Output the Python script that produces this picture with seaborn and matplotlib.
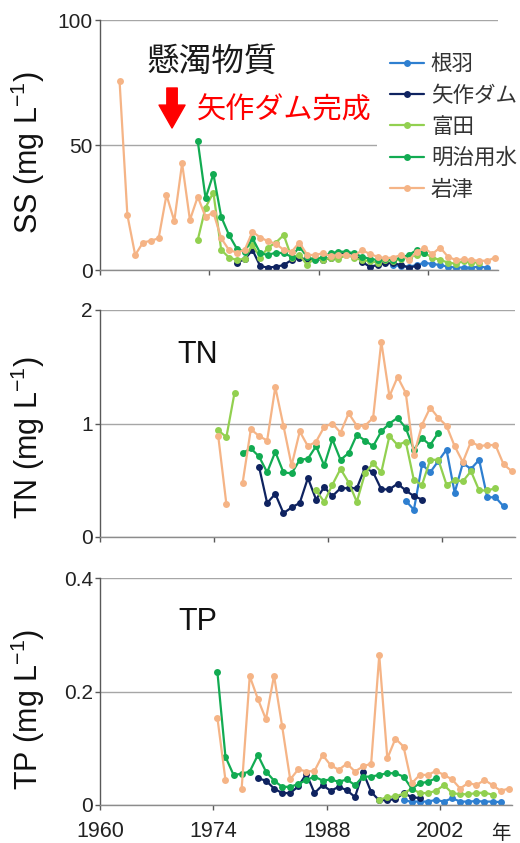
import numpy as np
import pandas as pd
import matplotlib
matplotlib.use("Agg")
import matplotlib.pyplot as plt
from matplotlib.lines import Line2D
import seaborn as sns

nan = np.nan

# ---------------- data ----------------
sites = ["根羽", "矢作ダム", "富田", "明治用水", "岩津"]
site_colors = ["#2e7fd0", "#0f2360", "#92d050", "#12ab52", "#f5b486"]
tick_years = [1960, 1974, 1988, 2002]

# Suspended solids (mg/L)
ss_starts = [1997, 1977, 1972, 1972, 1962]
ss_neba = [2.0, 1.5, 1.3, 2.0, 2.9, 2.4, 2.0, 1.3, 1.0, 1.0, 1.0, 1.3, 1.0]
ss_yahagi = [3.0, 4.3, 8.0, 1.5, 1.0, 1.3, 2.0, 4.0, 5.0, 4.0, 4.5, 4.0, 5.0,
             6.0, 7.0, 6.5, 3.3, 1.3, 2.0, 2.7, 2.7, 2.0, 1.0, 1.6]
ss_tomita = [12, 25, 31, 8, 5, 4, 4.5, 10, 5, 9, 11, 14, 5, 6, 2, 5, 4, 5, 4.5,
             6, 5, 4, 3.5, 3, 4, 3.5, 4.5, 5, 6, 6.7, 5, 4, 3, 2.5, 3.5, 3, 3]
ss_meiji = [51.6, 28.7, 38.4, 21.3, 14, 8.5, 7.3, 12.7, 6.7, 6, 7, 6.7, 5.3,
            9.3, 5.3, 4, 5.3, 6.7, 7.3, 7.3, 6.7, 5.3, 4.5, 4, 4.5, 4, 5, 6, 8, 7]
ss_iwatsu = [75.7, 22, 6, 11, 11.7, 12.7, 30, 19.6, 42.7, 20, 29.3, 21.3, 23,
             12.7, 8, 7, 8, 15.3, 13, 11.5, 10.5, 8, 7.3, 11, 6, 6, 6.7, 5.5,
             6, 6, 5.5, 8, 6.4, 5.3, 4.7, 5, 6, 4, 7.3, 8.7, 6.4, 9, 5.3, 4,
             4.3, 4, 3.7, 3.7, 4.9]

# Total nitrogen (mg/L)
tn_starts = [1997, 1979, 1974, 1977, 1974]
tn_neba = [0.32, 0.24, 0.64, 0.57, 0.67, 0.77, 0.39, 0.65, 0.60, 0.68, 0.35,
           0.35, 0.27]
tn_yahagi = [0.62, 0.30, 0.38, 0.21, 0.26, 0.30, 0.52, 0.33, 0.44, 0.36, 0.43,
             0.43, 0.43, 0.61, 0.57, 0.42, 0.42, 0.47, 0.41, 0.36, 0.33]
tn_tomita = [0.94, 0.88, 1.27, nan, nan, nan, nan, nan, nan, nan, nan, nan,
             0.41, 0.31, 0.46, 0.60, 0.48, 0.31, 0.56, 0.65, 0.57, 0.89, 0.81,
             0.84, 0.50, 0.46, 0.68, 0.68, 0.46, 0.50, 0.49, 0.58, 0.41, 0.41,
             0.43]
tn_meiji = [0.74, 0.78, 0.71, 0.57, 0.75, 0.57, 0.56, 0.68, 0.69, 0.80, 0.63,
            0.86, 0.68, 0.74, 0.90, 0.85, 0.80, 0.93, 1.00, 1.05, 0.96, 0.77,
            0.87, 0.81, 0.92]
tn_iwatsu = [0.89, 0.29, nan, 0.48, 0.95, 0.89, 0.85, 1.32, 0.98, 0.63, 0.93,
             0.80, 0.84, 0.97, 1.00, 0.92, 1.09, 0.98, 0.98, 1.05, 1.72, 1.24,
             1.41, 1.27, 0.72, 0.99, 1.14, 1.05, 0.98, 0.80, 0.66, 0.84, 0.80,
             0.81, 0.81, 0.64, 0.58]

# Total phosphorus (mg/L)
tp_starts = [1997, 1979, 1994, 1974, 1974]
tp_neba = [0.008, 0.006, 0.006, 0.006, 0.009, 0.006, 0.012, 0.006, 0.006,
           0.007, 0.006, 0.006, 0.005]
tp_yahagi = [0.047, 0.043, 0.029, 0.021, 0.021, 0.033, 0.055, 0.021, 0.035,
             0.025, 0.032, 0.026, 0.014, 0.058, 0.023, 0.008, 0.009, 0.010,
             0.021, 0.014, 0.012]
tp_tomita = [0.009, 0.014, 0.015, 0.020, 0.029, 0.021, 0.021, 0.025, 0.035,
             0.021, 0.019, 0.019, 0.021, 0.022, 0.018]
tp_meiji = [0.235, 0.085, 0.053, 0.055, 0.059, 0.088, 0.059, 0.043, 0.032,
            0.032, 0.037, 0.044, 0.050, 0.043, 0.045, 0.041, 0.045, 0.035,
            0.050, 0.050, 0.053, 0.056, 0.056, 0.050, 0.029, 0.038, 0.041,
            0.047]
tp_iwatsu = [0.154, 0.044, nan, 0.029, 0.227, 0.187, 0.151, 0.228, 0.139,
             0.045, 0.063, 0.059, 0.060, 0.088, 0.070, 0.062, 0.073, 0.059,
             0.068, 0.073, 0.264, 0.082, 0.117, 0.103, 0.038, 0.053, 0.053,
             0.060, 0.053, 0.045, 0.029, 0.039, 0.035, 0.044, 0.035, 0.025,
             0.029]


def build(starts, series):
    rows = []
    for site, start, vals in zip(sites, starts, series):
        seg = 0
        for i, v in enumerate(vals):
            if np.isnan(v):
                seg += 1
                continue
            rows.append({"site": site, "year": start + i, "value": v, "seg": seg})
    return pd.DataFrame(rows)


ss_df = build(ss_starts, [ss_neba, ss_yahagi, ss_tomita, ss_meiji, ss_iwatsu])
tn_df = build(tn_starts, [tn_neba, tn_yahagi, tn_tomita, tn_meiji, tn_iwatsu])
tp_df = build(tp_starts, [tp_neba, tp_yahagi, tp_tomita, tp_meiji, tp_iwatsu])

# ---------------- style ----------------
sns.set_theme(style="white")
plt.rcParams["font.family"] = ["Liberation Sans", "Noto Sans CJK JP", "DejaVu Sans"]
plt.rcParams["mathtext.fontset"] = "custom"
plt.rcParams["mathtext.rm"] = "Liberation Sans"
plt.rcParams["mathtext.default"] = "rm"

W, H = 520, 843
fig = plt.figure(figsize=(W / 100, H / 100), dpi=100)


def axes_px(left, top, right, bottom):
    return fig.add_axes([left / W, 1 - bottom / H, (right - left) / W, (bottom - top) / H])


ax1 = axes_px(100, 20, 498, 270)
ax2 = axes_px(100, 310, 515, 537)
ax3 = axes_px(100, 578, 512, 805)

panels = [
    (ax1, ss_df, (0, 100), [0, 50, 100], ["0", "50", "100"], "SS", 0.47, -0.134),
    (ax2, tn_df, (0, 2), [0, 1, 2], ["0", "1", "2"], "TN", 0.44, -0.128),
    (ax3, tp_df, (0, 0.4), [0, 0.2, 0.4], ["0", "0.2", "0.4"], "TP", 0.42, -0.129),
]

for ax, df, ylim, yt, ytl, name, ylab_y, ylab_x in panels:
    ax.yaxis.grid(True, color="#a6a6a6", linewidth=1.0)
    ax.xaxis.grid(False)
    ax.set_axisbelow(True)
    for site, col in zip(sites, site_colors):
        sub = df[df["site"] == site]
        sns.lineplot(data=sub, x="year", y="value", units="seg", estimator=None,
                     color=col, marker="o", markersize=5, markeredgewidth=0,
                     linewidth=1.6, sort=False, legend=False, ax=ax)
    ax.set_xlim(1959.5, 2010.4)
    ax.set_ylim(*ylim)
    ax.set_xticks([t - 0.5 for t in tick_years])
    ax.set_xticklabels([str(t) for t in tick_years])
    ax.set_yticks(yt)
    ax.set_yticklabels(ytl)
    ax.set_xlabel("")
    ax.set_ylabel(name + r" (mg L$^{-1}$)", fontsize=22, color="#111111")
    ax.yaxis.set_label_coords(ylab_x, ylab_y)
    ax.spines["top"].set_visible(False)
    ax.spines["right"].set_visible(False)
    ax.spines["left"].set_color("#595959")
    ax.spines["bottom"].set_color("#8c8c8c")
    ax.spines["left"].set_linewidth(1.0)
    ax.spines["bottom"].set_linewidth(1.0)
    ax.tick_params(axis="y", direction="out", length=3.6, width=1, color="#595959",
                   labelsize=15, pad=1.5, left=True, labelcolor="#222222")
    ax.tick_params(axis="x", direction="out", length=3.6, width=1, color="#595959",
                   labelsize=15.5, pad=8, bottom=True, labelcolor="#222222")

ax1.tick_params(axis="x", labelbottom=False)
ax2.tick_params(axis="x", labelbottom=False)

# panel titles / annotations
ax1.text(0.281, 0.83, "懸濁物質", transform=ax1.transAxes, ha="center", va="center",
         fontsize=23.5, color="#1a1a1a")
ax1.text(0.244, 0.64, "矢作ダム完成", transform=ax1.transAxes, ha="left", va="center",
         fontsize=21, color="#ff0000")
ax1.annotate("", xy=(0.181, 0.568), xytext=(0.181, 0.728), xycoords="axes fraction",
             arrowprops=dict(arrowstyle="simple,head_length=1.1,head_width=1.25,tail_width=0.5",
                             color="#ff0000", mutation_scale=15, shrinkA=0, shrinkB=0))
ax2.text(0.236, 0.80, "TN", transform=ax2.transAxes, ha="center", va="center",
         fontsize=22, color="#111111")
ax3.text(0.238, 0.805, "TP", transform=ax3.transAxes, ha="center", va="center",
         fontsize=22, color="#111111")

fig.text(501 / W, 1 - 834 / H, "年", ha="center", va="center", fontsize=14, color="#222222")

handles = [Line2D([0], [0], color=c, marker="o", markersize=5, markeredgewidth=0,
                  linewidth=1.6) for c in site_colors]
leg = ax1.legend(handles, sites, loc="upper left", bbox_to_anchor=(0.696, 0.915),
                 frameon=True, facecolor="white", edgecolor="none", framealpha=1,
                 fontsize=15.5, handlelength=1.6, handletextpad=0.3, labelspacing=0.48,
                 borderpad=0.6, borderaxespad=0)
for t in leg.get_texts():
    t.set_color("#333333")

fig.savefig("out.png", dpi=100)
